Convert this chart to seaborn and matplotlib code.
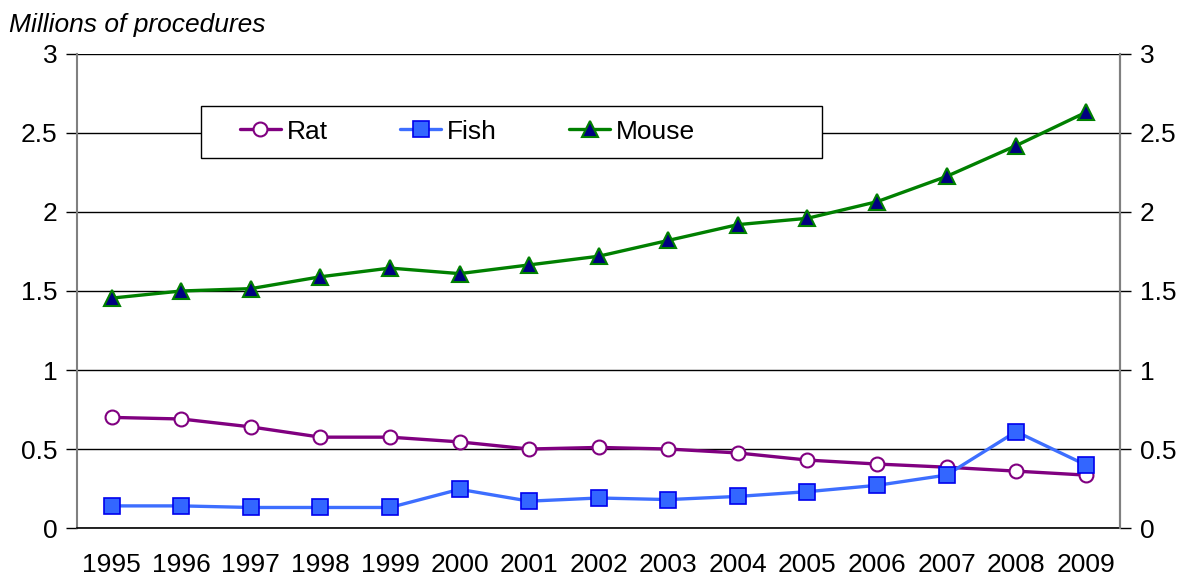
import numpy as np
import pandas as pd
import matplotlib
matplotlib.use("Agg")
import matplotlib.pyplot as plt
from matplotlib.ticker import FixedLocator
from matplotlib.patches import Rectangle
import seaborn as sns

years = [str(y) for y in range(1995, 2010)]
rat = [0.70, 0.69, 0.64, 0.575, 0.575, 0.545, 0.50, 0.51, 0.50, 0.475, 0.43, 0.405, 0.385, 0.36, 0.335]
fish = [0.14, 0.14, 0.13, 0.13, 0.13, 0.245, 0.17, 0.19, 0.18, 0.20, 0.23, 0.27, 0.335, 0.61, 0.40]
mouse = [1.455, 1.50, 1.515, 1.59, 1.645, 1.61, 1.665, 1.72, 1.82, 1.92, 1.96, 2.065, 2.225, 2.42, 2.63]
yticks = [0, 0.5, 1, 1.5, 2, 2.5, 3]
ytick_labels = ["0", "0.5", "1", "1.5", "2", "2.5", "3"]

sns.set_style("white")
plt.rcParams['font.family'] = ['Liberation Sans', 'DejaVu Sans']
plt.rcParams['text.color'] = 'black'
plt.rcParams['xtick.color'] = 'black'
plt.rcParams['ytick.color'] = 'black'
plt.rcParams['axes.labelcolor'] = 'black'

df = pd.DataFrame({"year": years, "Rat": rat, "Fish": fish, "Mouse": mouse})
x = np.arange(len(years))

fig = plt.figure(figsize=(11.79, 5.76), dpi=100)
ax = fig.add_axes([0.0653, 0.0833, 0.885, 0.823])

styles = {
    "Rat": dict(color="#800080", marker="o", mfc="white", mec="#800080", ms=10, mew=1.5),
    "Fish": dict(color="#3D6EFF", marker="s", mfc="#3366FF", mec="#0000EE", ms=11, mew=1.2),
    "Mouse": dict(color="#008000", marker="^", mfc="#000080", mec="#008000", ms=12, mew=1.5),
}
for name in ["Rat", "Fish", "Mouse"]:
    st = styles[name]
    sns.lineplot(x=x, y=df[name], ax=ax, label=name, color=st["color"], linewidth=2.4,
                 marker=st["marker"], markerfacecolor=st["mfc"], markeredgecolor=st["mec"],
                 markersize=st["ms"], markeredgewidth=st["mew"])

ax.set_xlim(-0.5, len(years) - 0.5)
ax.set_ylim(0, 3)
ax.set_yticks(yticks)
ax.set_yticklabels(ytick_labels)
ax.yaxis.grid(True, color="black", linewidth=1)
ax.set_axisbelow(True)
ax.set_xticks(x)
ax.set_xticklabels(years)
ax.xaxis.set_minor_locator(FixedLocator(np.arange(-0.5, len(years), 1.0)))
ax.tick_params(axis="x", which="major", length=0, pad=18, labelsize=19)
ax.tick_params(axis="x", which="minor", length=8, width=1.2, color="#808080", direction="out")
ax.tick_params(axis="y", length=8, width=1, color="black", direction="out", labelsize=19, pad=6)
ax.set_xlabel("")
ax.set_ylabel("")
ax.spines["top"].set_visible(False)
ax.spines["bottom"].set_color("black")
ax.spines["bottom"].set_linewidth(1.2)
for s in ["left", "right"]:
    ax.spines[s].set_color("#808080")
    ax.spines[s].set_linewidth(1.5)

ax2 = ax.twinx()
ax2.set_ylim(0, 3)
ax2.set_yticks(yticks)
ax2.set_yticklabels(ytick_labels)
ax2.tick_params(axis="y", length=8, width=1, color="black", direction="out", labelsize=19, pad=6)
for s in ["top", "left", "bottom"]:
    ax2.spines[s].set_visible(False)
ax2.spines["right"].set_color("#808080")
ax2.spines["right"].set_linewidth(1.5)

# legend box
box = Rectangle((0.119, 0.781), 0.595, 0.110, transform=ax.transAxes,
                facecolor="white", edgecolor="black", linewidth=1, zorder=4)
ax.add_patch(box)
leg = ax.legend(loc="center left", bbox_to_anchor=(0.156, 0.836), ncol=3, frameon=False,
                fontsize=19, handlelength=1.55, handletextpad=0.22, columnspacing=2.75,
                borderpad=0, borderaxespad=0)
leg.set_zorder(5)

fig.text(0.008, 0.957, "Millions of procedures", fontsize=19, style="italic", va="center", ha="left")

fig.savefig("out.png", dpi=100)
